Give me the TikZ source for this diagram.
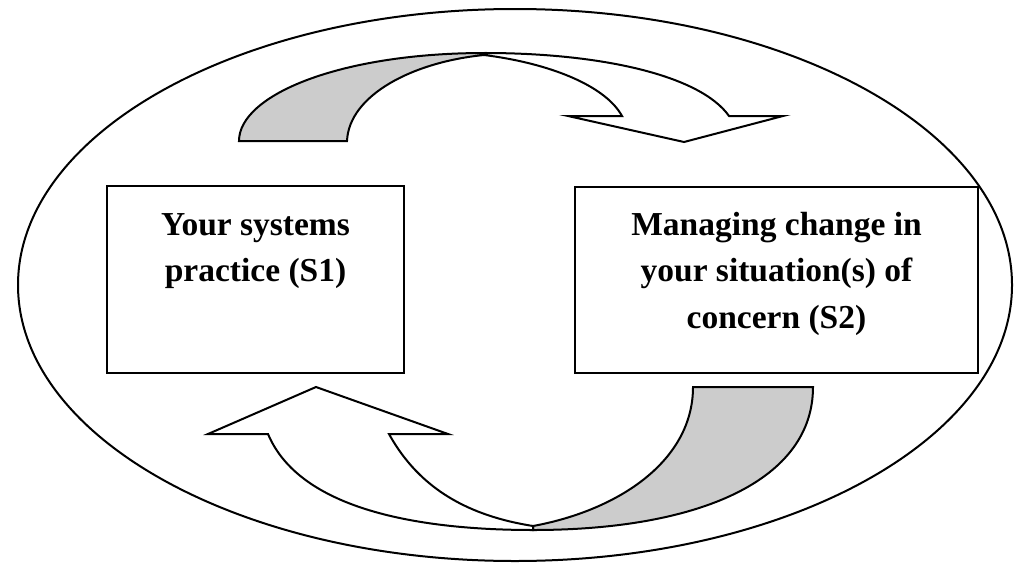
\documentclass[tikz,border=0pt]{standalone}
\usepackage{fontspec}
\setmainfont{Liberation Serif}
\begin{document}
\begin{tikzpicture}[x=1pt,y=-1pt,
  outline/.style={draw=black,line width=2pt,line join=miter},
  backface/.style={outline,fill=backgray},
  frontface/.style={outline,fill=white},
  boxstyle/.style={draw=black,line width=2pt,rectangle,inner sep=0pt},
  boxtext/.style={align=center,inner sep=0pt,font=\bfseries\fontsize{33.5}{46.5}\selectfont}]
\definecolor{backgray}{RGB}{204,204,204}
\useasboundingbox (0,0) rectangle (1024,570);
% outer ellipse
\draw[line width=2pt] (515,285) ellipse [x radius=497pt, y radius=276pt];
% boxes
\node[boxstyle,minimum width=297pt,minimum height=187pt] (s1) at (255.5,279.5) {};
\node[boxstyle,minimum width=403pt,minimum height=186pt] (s2) at (776.5,280) {};
\node[boxtext,anchor=north,yshift=-28pt] (s1t) at (s1.north) {Your systems\\practice (S1)};
\node[boxtext,anchor=north,yshift=-26pt] (s2t) at (s2.north) {Managing change in\\your situation(s) of\\concern (S2)};
% top curved arrow: back (gray) part
\path[backface] (239,141) .. controls (239,95) and (340,53) .. (485,53)
  -- (484,55) .. controls (413,62) and (349,95) .. (347,141) -- cycle;
% top curved arrow: front (white) part with head
\path[frontface] (485,53) .. controls (600,53) and (700,75) .. (729,116)
  -- (783,116) -- (684,142) -- (568,116) -- (622,116)
  .. controls (605,85) and (548,63) .. (484,55) -- cycle;
% bottom curved arrow: back (gray) part
\path[backface] (693,387) -- (813,387)
  .. controls (813,480) and (700,530) .. (533,530)
  -- (533,526) .. controls (620,510) and (693,460) .. cycle;
% bottom curved arrow: front (white) part with head
\path[frontface] (268,434) -- (208,434) -- (316,387) -- (448,434) -- (389,434)
  .. controls (420,490) and (470,516) .. (533,526)
  -- (533,530) .. controls (420,530) and (300,510) .. cycle;
\end{tikzpicture}
\end{document}
